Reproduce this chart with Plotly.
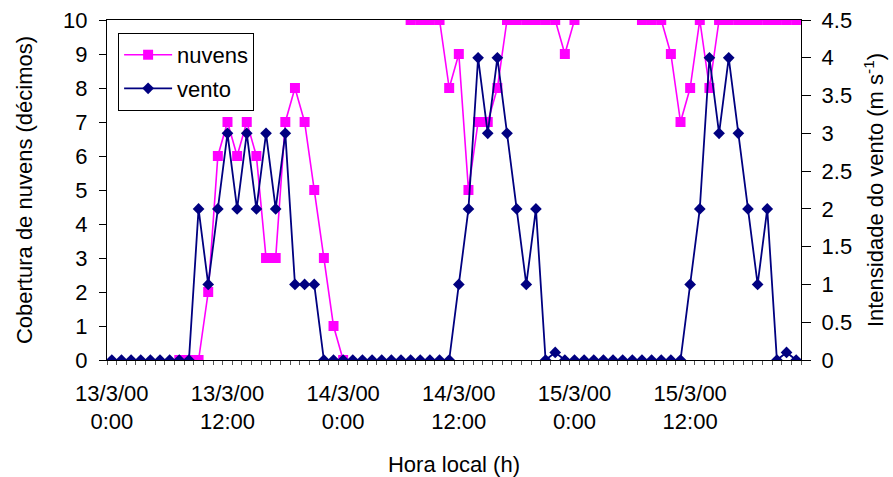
import plotly.graph_objects as go
import pandas as pd

# hourly categories 13/3/00 0:00 .. 15/3/00 23:00
horas = pd.date_range("2000-03-13 00:00", periods=72, freq="h")
pos = list(range(len(horas)))

# cloud cover (tenths) - None where not observed
nuvens = ([None] * 7 +
          [0, 0, 0, 2, 6, 7, 6, 7, 6, 3, 3, 7, 8, 7, 5, 3, 1, 0] +
          [None] * 6 +
          [10, 10, 10, 10, 8, 9, 5, 7, 7, 8, 10, 10, 10, 10, 10, 10, 9, 10] +
          [None] * 6 +
          [10, 10, 10, 9, 7, 8, 10, 8, 10, 10, 10, 10, 10, 10, 10, 10, 10])

# wind speed (m/s)
vento = ([0] * 9 +
         [2, 1, 2, 3, 2, 3, 2, 3, 2, 3, 1, 1, 1, 0, 0, 0] +
         [0] * 11 +
         [1, 2, 4, 3, 4, 3, 2, 1, 2, 0, 0.1, 0, 0] +
         [0] * 11 +
         [1, 2, 4, 3, 4, 3, 2, 1, 2, 0, 0.1, 0])

tick_pos = [0, 12, 24, 36, 48, 60]
tick_txt = ["13/3/00<br>0:00", "13/3/00<br>12:00", "14/3/00<br>0:00",
            "14/3/00<br>12:00", "15/3/00<br>0:00", "15/3/00<br>12:00"]

FONT = "Liberation Sans, Arial, sans-serif"
FS = 22
MAG = "#FF00FF"
NAVY = "#000080"

boundaries = [p - 0.5 for p in pos] + [pos[-1] + 0.5]
xr = [boundaries[0], boundaries[-1]]

fig = go.Figure()
fig.add_trace(go.Scatter(
    x=pos, y=nuvens, name="nuvens", mode="lines+markers",
    line=dict(color=MAG, width=1.6),
    marker=dict(symbol="square", size=10, color=MAG),
    connectgaps=False, legendgroup="a", yaxis="y"))
fig.add_trace(go.Scatter(
    x=pos, y=vento, name="vento", mode="lines+markers",
    line=dict(color=NAVY, width=1.8),
    marker=dict(symbol="diamond", size=9, color=NAVY),
    legendgroup="b", yaxis="y2"))

common = dict(showgrid=False, zeroline=False, automargin=False)

fig.update_layout(
    width=893, height=477,
    margin=dict(l=107, r=92, t=20, b=117, autoexpand=False),
    paper_bgcolor="white", plot_bgcolor="white",
    font=dict(family=FONT, size=FS, color="black"),
    showlegend=True,
    legend=dict(x=0.016, y=0.962, xanchor="left", yanchor="top",
                bgcolor="white", bordercolor="black", borderwidth=1,
                font=dict(size=FS), traceorder="grouped", tracegroupgap=2,
                itemwidth=48),
    xaxis=dict(range=xr, tickmode="array", tickvals=tick_pos, ticktext=tick_txt,
               ticks="", showline=True, linecolor="black", linewidth=1.3, mirror=True,
               minor=dict(tickmode="array", tickvals=boundaries, ticks="outside",
                          ticklen=4, tickcolor="#555555", tickwidth=1),
               title=dict(text="Hora local (h)", standoff=25, font=dict(size=FS)),
               ticklabelstandoff=13, **common),
    xaxis2=dict(range=xr, overlaying="x", anchor="y", side="bottom",
                tickmode="array", tickvals=boundaries, ticks="inside",
                ticklen=5, tickcolor="#555555", tickwidth=1,
                showticklabels=False, showline=False, **common),
    yaxis=dict(range=[0, 10], dtick=1, tick0=0, ticks="outside", ticklen=7,
               tickcolor="black", showline=True, linecolor="black", linewidth=1.3,
               ticklabelstandoff=7,
               title=dict(text="Cobertura de nuvens (décimos)", standoff=24,
                          font=dict(size=FS)), **common),
    yaxis3=dict(range=[0, 10], dtick=1, tick0=0, ticks="inside", ticklen=6,
                tickcolor="black", showticklabels=False, showline=False,
                overlaying="y", side="left", anchor="x", **common),
    yaxis2=dict(range=[0, 4.5], dtick=0.5, tick0=0, ticks="outside", ticklen=9,
                tickcolor="black", showline=True, linecolor="black", linewidth=1.3,
                overlaying="y", side="right", anchor="x",
                ticklabelstandoff=6,
                title=dict(text="Intensidade do vento (m s<sup>-1</sup>)",
                           standoff=16, font=dict(size=FS)), **common),
    yaxis4=dict(range=[0, 4.5], dtick=0.5, tick0=0, ticks="inside", ticklen=8,
                tickcolor="black", showticklabels=False, showline=False,
                overlaying="y", side="right", anchor="x", **common),
)

fig.write_html("out.html")
